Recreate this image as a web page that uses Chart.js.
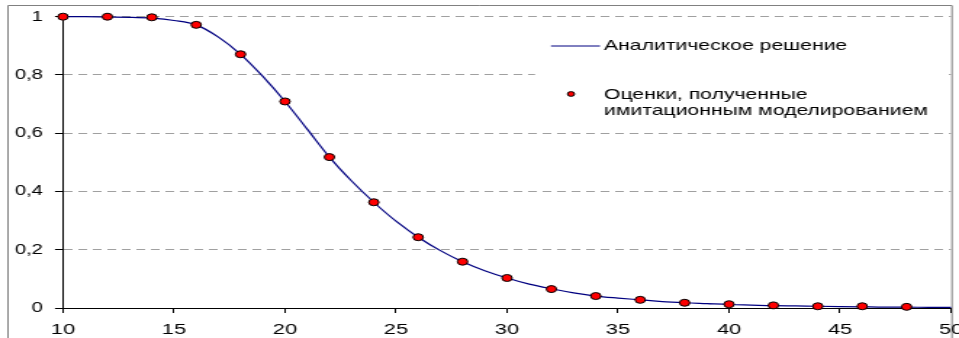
<!DOCTYPE html>
<html>
<head>
<meta charset="utf-8">
<script src="https://cdn.jsdelivr.net/npm/chart.js@4/dist/chart.umd.min.js"></script>
<style>
  html, body { margin: 0; padding: 0; background: #fff; }
  #c { display: block; width: 959px; height: 338px; }
</style>
</head>
<body>
<canvas id="c" width="661" height="338" style="width:959px;height:338px"></canvas>
<script>
// values
const simX = [10, 12, 14, 16, 18, 20, 22, 24, 26, 28, 30, 32, 34, 36, 38, 40, 42, 44, 46, 48];
const simY = [1, 1, 0.998, 0.972, 0.871, 0.709, 0.518, 0.363, 0.243, 0.159, 0.103, 0.065, 0.041, 0.028, 0.018, 0.013, 0.009, 0.006, 0.006, 0.004];

const curveX = [10, 11, 12, 13, 14, 15, 16, 17, 18, 19, 20, 21, 22, 23, 24, 25, 26, 27, 28, 29, 30,
  31, 32, 33, 34, 35, 36, 37, 38, 39, 40, 41, 42, 43, 44, 45, 46, 47, 48, 49, 50];
const curveY = [1, 1, 0.999, 0.998, 0.995, 0.987, 0.972, 0.93, 0.871, 0.795, 0.709, 0.614, 0.518, 0.436, 0.363, 0.298, 0.243, 0.197, 0.159, 0.128, 0.103,
  0.082, 0.066, 0.052, 0.041, 0.034, 0.028, 0.022, 0.018, 0.015, 0.012, 0.010, 0.008, 0.007, 0.006, 0.005, 0.004, 0.003, 0.003, 0.002, 0.002];

const lineLabel = 'Аналитическое решение';
const dotLabel = ['Оценки, полученные', 'имитационным моделированием'];

// the picture is stretched sideways, so the canvas is drawn narrow and widened by css
const S = 959 / 661;

Chart.defaults.font.family = "Arial, 'Liberation Sans', sans-serif";
Chart.defaults.color = '#000';

const framePlugin = {
  id: 'frame',
  beforeDraw(chart) {
    const ctx = chart.ctx;
    ctx.save();
    ctx.fillStyle = '#fff';
    ctx.fillRect(0, 0, chart.width, chart.height);
    ctx.strokeStyle = '#808080';
    ctx.lineWidth = 1;
    ctx.beginPath();
    ctx.moveTo(8 / S, chart.height);
    ctx.lineTo(8 / S, 5.5);
    ctx.lineTo(952 / S, 5.5);
    ctx.lineTo(952 / S, chart.height);
    ctx.stroke();
    ctx.restore();
  }
};

const legendPlugin = {
  id: 'box',
  afterDraw(chart) {
    const ctx = chart.ctx;
    ctx.save();
    ctx.fillStyle = '#fff';
    ctx.fillRect(535 / S, 24, (945 - 535) / S, 98);
    ctx.strokeStyle = '#000080';
    ctx.lineWidth = 1;
    ctx.beginPath();
    ctx.moveTo(551 / S, 46);
    ctx.lineTo(600 / S, 46);
    ctx.stroke();
    ctx.fillStyle = '#ff0000';
    ctx.strokeStyle = '#000';
    ctx.beginPath();
    ctx.arc(571 / S, 94, 2.4, 0, Math.PI * 2);
    ctx.fill();
    ctx.stroke();
    ctx.fillStyle = '#000';
    ctx.font = "14.6px Arial, 'Liberation Sans', sans-serif";
    ctx.textBaseline = 'middle';
    ctx.fillText(lineLabel, 604 / S, 46);
    ctx.fillText(dotLabel[0], 604 / S, 95);
    ctx.fillText(dotLabel[1], 604 / S, 111);
    ctx.restore();
  }
};

new Chart(document.getElementById('c'), {
  type: 'line',
  data: {
    datasets: [
      {
        type: 'scatter',
        label: dotLabel.join(' '),
        data: simX.map((x, i) => ({ x: x, y: simY[i] })),
        pointRadius: 3.5,
        pointBackgroundColor: '#ff0000',
        pointBorderColor: '#000',
        pointBorderWidth: 1,
        showLine: false,
        clip: false
      },
      {
        label: lineLabel,
        data: curveX.map((x, i) => ({ x: x, y: curveY[i] })),
        borderColor: '#000080',
        borderWidth: 1.2,
        pointRadius: 0,
        fill: false,
        cubicInterpolationMode: 'monotone',
        clip: false
      }
    ]
  },
  options: {
    responsive: false,
    devicePixelRatio: 1,
    animation: false,
    layout: { padding: { left: 0, right: 661 - 951 / S, top: 15, bottom: 0 } },
    plugins: { legend: { display: false }, tooltip: { enabled: false } },
    scales: {
      x: {
        type: 'linear',
        min: 10,
        max: 50,
        afterFit: s => { s.height = 30; s.paddingLeft = 0; s.paddingRight = 0; },
        ticks: { stepSize: 5, padding: 8, font: { size: 15 }, maxRotation: 0 },
        grid: { drawOnChartArea: false, tickLength: 5, tickColor: '#000' },
        border: { color: '#000', width: 1 }
      },
      y: {
        min: 0,
        max: 1,
        afterFit: s => { s.width = 63 / S; },
        ticks: {
          stepSize: 0.2,
          padding: 8.3,
          font: { size: 14 },
          callback: v => String(Math.round(v * 10) / 10).replace('.', ',')
        },
        grid: { color: '#a0a0a0', lineWidth: 1, tickLength: 5.5, tickColor: '#000' },
        border: { color: '#000', width: 1, dash: [6, 4] }
      }
    }
  },
  plugins: [framePlugin, legendPlugin]
});
</script>
</body>
</html>
